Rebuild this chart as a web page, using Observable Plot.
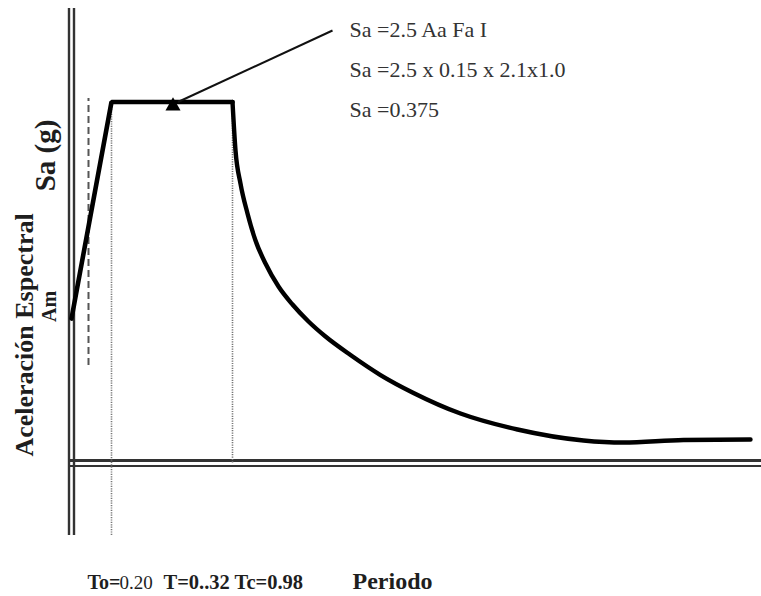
<!DOCTYPE html>
<html>
<head>
<meta charset="utf-8">
<script src="https://cdn.jsdelivr.net/npm/d3@7"></script>
<script src="https://cdn.jsdelivr.net/npm/@observablehq/plot@0.6"></script>
<style>
  html, body { margin: 0; padding: 0; background: #fff; overflow: hidden; }
  svg { display: block; }
</style>
</head>
<body>
<div id="chart"></div>
<script>
// ---- Data (period T in schematic units, Sa in g) ----
const Am = 0.15;          // Sa at T = 0
const SaMax = 0.375;      // plateau value
const T0 = 0.2;           // start of plateau
const Tc = 0.805;         // end of plateau
const rampT  = [0, T0, Tc];
const rampSa = [Am, SaMax, SaMax];
const decayT  = [0.805, 0.82, 0.845, 0.88, 0.92, 0.97, 1.035, 1.105, 1.185, 1.27, 1.395, 1.545, 1.71, 1.945, 2.23, 2.56, 2.76, 3.06, 3.395];
const decaySa = [0.375, 0.3246, 0.2903, 0.2592, 0.2311, 0.2072, 0.1833, 0.1646, 0.147, 0.1314, 0.1122, 0.0914, 0.0728, 0.0514, 0.0348, 0.0234, 0.0213, 0.0239, 0.0244];
const annotationLines = ["Sa =2.5 Aa Fa I", "Sa =2.5 x 0.15 x 2.1x1.0", "Sa =0.375"];
const yLabel = "Aceleración Espectral";
const yUnit = "Sa (g)";
const amLabel = "Am";
const periodLabels = ["To=", "0.20", "T=0..32 Tc=0.98"];
const xLabel = "Periodo";

const serif = "'Liberation Serif', 'Times New Roman', serif";
const ink = "#1e1e1e";
const plateauMid = (T0 + Tc) / 2;

const chart = Plot.plot({
  width: 761,
  height: 596,
  margin: 0,
  x: {domain: [-0.355, 3.45], axis: null},
  y: {domain: [-0.13868, 0.48043], axis: null},
  marks: [
    // double vertical axis
    Plot.ruleX([-0.0125, 0.0125], {x: d => d, y1: () => -0.0753, y2: () => 0.4721, stroke: "#333", strokeWidth: 2.4}),
    // double horizontal axis
    Plot.ruleY([0.0026], {y: d => d, x1: () => -0.015, x2: () => 3.45, stroke: "#333", strokeWidth: 3}),
    Plot.ruleY([-0.0031], {y: d => d, x1: () => -0.015, x2: () => 3.45, stroke: "#333", strokeWidth: 2}),
    // dashed reference line
    Plot.ruleX([0.085], {x: d => d, y1: () => 0.1013, y2: () => 0.3787, stroke: "#555", strokeWidth: 2, strokeDasharray: "7,4"}),
    // dotted guides at T0 and Tc
    Plot.ruleX([T0], {x: d => d, y1: () => -0.0753, y2: () => SaMax, stroke: "#777", strokeWidth: 1.6, strokeDasharray: "1.2,1.2"}),
    Plot.ruleX([Tc], {x: d => d, y1: () => 0, y2: () => SaMax, stroke: "#777", strokeWidth: 1.6, strokeDasharray: "1.2,1.2"}),
    // spectrum
    Plot.line(rampT, {x: d => d, y: (d, i) => rampSa[i], stroke: "#000", strokeWidth: 4.6, strokeLinejoin: "miter"}),
    Plot.line(decayT, {x: d => d, y: (d, i) => decaySa[i], stroke: "#000", strokeWidth: 4.4, curve: "monotone-x"}),
    // arrow to plateau
    Plot.link([0], {x1: () => 1.305, y1: () => 0.4493, x2: () => plateauMid + 0.03, y2: () => SaMax, stroke: "#111", strokeWidth: 2}),
    Plot.dot([plateauMid], {x: d => d + 0.005, y: () => SaMax - 0.0042, symbol: "triangle", r: 5.6, fill: "#000", stroke: "none"}),
    // annotation text
    Plot.text(annotationLines, {x: () => 1.39, y: (d, i) => 0.442 - i * 0.04105, text: d => d, textAnchor: "start", lineAnchor: "bottom", fontFamily: serif, fontSize: 22, fill: "#333"}),
    // rotated y labels
    Plot.text([yLabel], {x: () => -0.195, y: () => 0.133, text: d => d, rotate: -90, textAnchor: "middle", lineAnchor: "bottom", fontFamily: serif, fontWeight: "bold", fontSize: 26, fill: ink}),
    Plot.text([yUnit], {x: () => -0.085, y: () => 0.3194, text: d => d, rotate: -90, textAnchor: "middle", lineAnchor: "bottom", fontFamily: serif, fontWeight: "bold", fontSize: 29, fill: ink}),
    Plot.text([amLabel], {x: () => -0.08, y: () => 0.1626, text: d => d, rotate: -90, textAnchor: "middle", lineAnchor: "bottom", fontFamily: serif, fontWeight: "bold", fontSize: 20, fill: ink}),
    // bottom labels
    Plot.text([periodLabels[0]], {x: () => 0.08, y: () => -0.1304, text: d => d, textAnchor: "start", lineAnchor: "bottom", fontFamily: serif, fontWeight: "bold", fontSize: 20, fill: ink}),
    Plot.text([periodLabels[1]], {x: () => 0.24, y: () => -0.1304, text: d => d, textAnchor: "start", lineAnchor: "bottom", fontFamily: serif, fontSize: 19, fill: ink}),
    Plot.text([periodLabels[2]], {x: () => 0.46, y: () => -0.1304, text: d => d, textAnchor: "start", lineAnchor: "bottom", fontFamily: serif, fontWeight: "bold", fontSize: 20.5, fill: ink}),
    Plot.text([xLabel], {x: () => 1.405, y: () => -0.1304, text: d => d, textAnchor: "start", lineAnchor: "bottom", fontFamily: serif, fontWeight: "bold", fontSize: 24, fill: ink})
  ]
});
document.getElementById("chart").appendChild(chart);
</script>
</body>
</html>
